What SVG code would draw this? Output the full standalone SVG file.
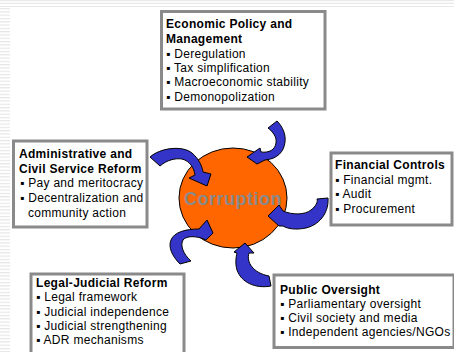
<svg xmlns="http://www.w3.org/2000/svg" width="454" height="352" viewBox="0 0 454 352">
<style>
.box{fill:#fff;stroke:#8a8a8a;stroke-width:3}
.t{font-family:"Liberation Sans",Arial,sans-serif;font-size:12px;letter-spacing:0.3px;fill:#000}
.b{font-weight:bold}
.arr{fill:#3434C8;stroke:#000;stroke-width:1;stroke-linejoin:round}
.stripe{stroke:#e9e9e9;stroke-width:1.2}
</style>
<defs>
<pattern id="lines" x="0" y="8" width="10" height="3.3" patternUnits="userSpaceOnUse">
<rect x="0" y="0" width="10" height="1.2" fill="#e6e6e6"/>
</pattern>
</defs>
<rect width="454" height="352" fill="#fff"/>
<g id="background">
<line class="stripe" x1="0" y1="0.6" x2="454" y2="0.6"/>
<line class="stripe" x1="0" y1="3.4" x2="454" y2="3.4"/>
<line class="stripe" x1="0" y1="6.5" x2="454" y2="6.5"/>
<rect x="0" y="8" width="10" height="344" fill="url(#lines)"/>
</g>
<g id="corruption">
<ellipse cx="233" cy="198" rx="54" ry="50" fill="#FF6600" stroke="#000" stroke-width="1"/>
<text x="233" y="205" text-anchor="middle" font-family="'Liberation Sans',Arial,sans-serif" font-size="18" font-weight="bold" letter-spacing="0.5" fill="#8a8a8a">Corruption</text>
</g>
<g id="connectors">
<path class="arr" d="M247,157 L260,148 L261,152 C269,153 275,150 276,143 C277,137 273,132 268,128 L277,121 C283,127 286,135 285,142 C284,152 277,159 265,160 L257,164 Z"/>
<path class="arr" d="M150,157 C160,148 182,145 192,153 C199,159 202,166 203,172 L211,174 L207,186 L189,178 L195,175 C194,168 190,161 182,159 C175,158 167,160 160,166 Z"/>
<path class="arr" d="M268,216 L279,205 L283,211 C292,215 305,215 311,210 C316,206 318,202 317,199 L328,198 C329,210 322,224 306,228 C296,230 288,229 283,226 L279,226 Z"/>
<path class="arr" d="M213,233 L206,240 L201,238 C194,236 186,236 183,240 C180,245 183,254 191,261 L180,264 C172,256 168,247 171,240 C174,232 186,229 199,229 L207,220 Z"/>
<path class="arr" d="M245,243 L254,253 L249,253 C246,262 253,273 269,276 L271,286 C255,289 241,282 237,270 C235,263 236,257 237,253 L234,252 Z"/>
</g>
<g id="economic">
<rect class="box" x="161.5" y="11.5" width="163.5" height="97.5"/>
<text class="t b" x="166" y="28">Economic Policy and</text>
<text class="t b" x="166" y="43">Management</text>
<text class="t" x="166" y="57.5">▪ Deregulation</text>
<text class="t" x="166" y="72">▪ Tax simplification</text>
<text class="t" x="166" y="86">▪ Macroeconomic stability</text>
<text class="t" x="166" y="100.5">▪ Demonopolization</text>
</g>
<g id="administrative">
<rect class="box" x="13.5" y="141" width="133.5" height="86"/>
<text class="t b" x="19" y="157.5">Administrative and</text>
<text class="t b" x="19" y="172.5">Civil Service Reform</text>
<text class="t" x="20" y="187">▪ Pay and meritocracy</text>
<text class="t" x="20" y="202">▪ Decentralization and</text>
<text class="t" x="28" y="217">community action</text>
</g>
<g id="financial">
<rect class="box" x="331" y="153" width="121" height="72"/>
<text class="t b" x="335" y="169">Financial Controls</text>
<text class="t" x="335" y="183.5">▪ Financial mgmt.</text>
<text class="t" x="335" y="198">▪ Audit</text>
<text class="t" x="335" y="212.5">▪ Procurement</text>
</g>
<g id="legal">
<rect class="box" x="31" y="274" width="153" height="90"/>
<text class="t b" x="36" y="287">Legal-Judicial Reform</text>
<text class="t" x="36" y="301">▪ Legal framework</text>
<text class="t" x="36" y="315.5">▪ Judicial independence</text>
<text class="t" x="36" y="329.5">▪ Judicial strengthening</text>
<text class="t" x="36" y="344">▪ ADR mechanisms</text>
</g>
<g id="public">
<rect class="box" x="274" y="275" width="180" height="72.5"/>
<text class="t b" x="280" y="294">Public Oversight</text>
<text class="t" x="280" y="308">▪ Parliamentary oversight</text>
<text class="t" x="280" y="322">▪ Civil society and media</text>
<text class="t" x="280" y="336">▪ Independent agencies/NGOs</text>
</g>
</svg>
